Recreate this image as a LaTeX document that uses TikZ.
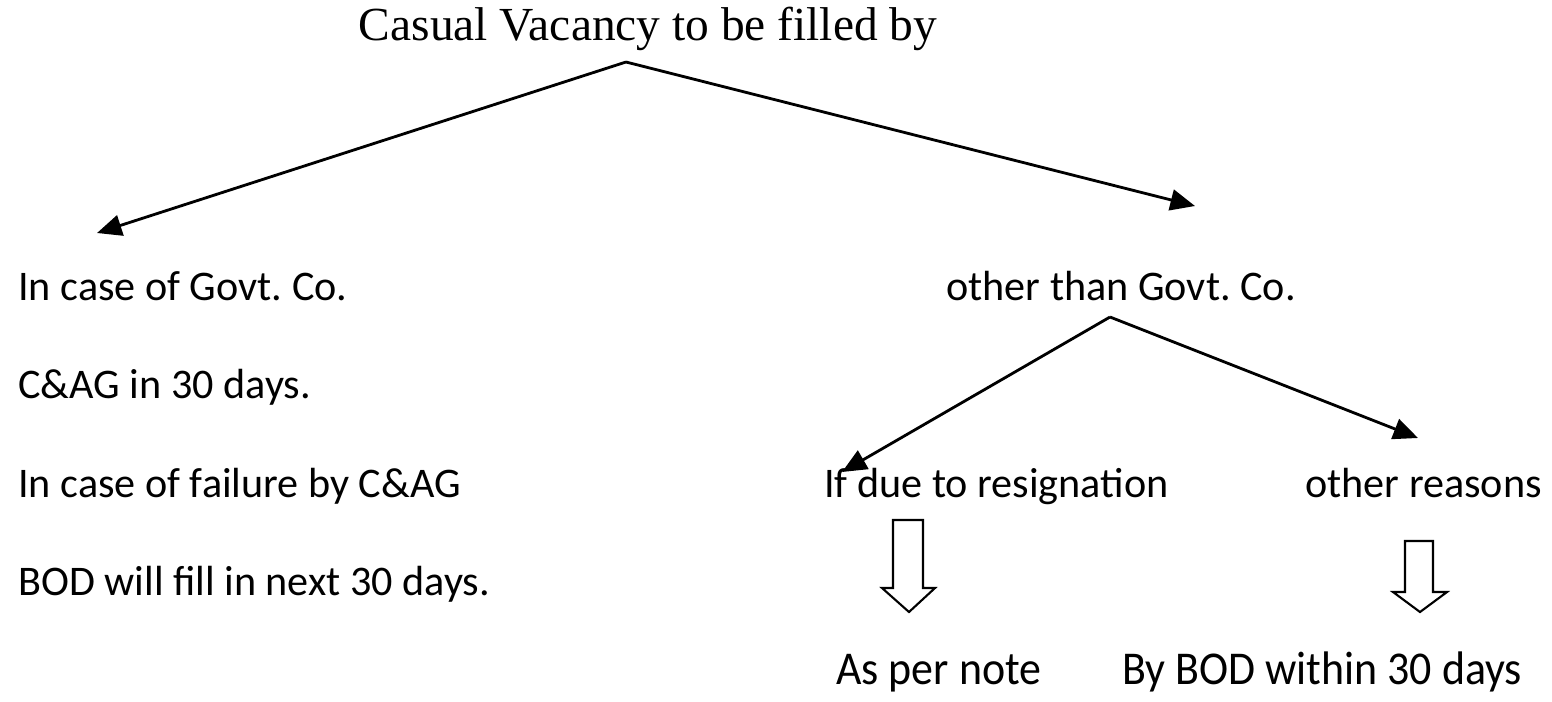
\documentclass[tikz,border=0pt]{standalone}
\usepackage{fontspec}
\usepackage{graphicx}
\usetikzlibrary{arrows.meta}
\newfontfamily\calib{Carlito}
\newfontfamily\timesf{Liberation Serif}
\frenchspacing
\begin{document}
\begin{tikzpicture}[x=0.02cm,y=-0.02cm,
  txt/.style={anchor=base west,inner sep=0pt,font=\calib\fontsize{24}{28}\selectfont},
  bot/.style={anchor=base west,inner sep=0pt,font=\calib\fontsize{25.5}{30}\selectfont},
  arr/.style={line width=1.6pt,-{Triangle[length=14pt,width=12pt]}},
  hollow/.style={line width=1.2pt,fill=white,line join=miter}]
\useasboundingbox (0,0) rectangle (1552,701);
% title
\node[anchor=base,inner sep=0pt,font=\timesf\fontsize{27}{32}\selectfont] (title) at (648,40) {Casual Vacancy to be filled by};
% left column
\node[txt] (g1) at (18,300) {In case of Govt. Co.};
\node[txt] (g2) at (18,398) {C\&AG in 30 days.};
\node[txt] (g3) at (18,497) {In case of failure by C\&AG};
\node[txt] (g4) at (18,595) {BOD will fill in next 30 days.};
% right column
\node[txt] (o1) at (946,300) {other than Govt. Co.};
\node[txt] (r1) at (824,497) {If due to resignation};
\node[txt] (r2) at (1305,497) {other reasons};
\node[bot] (n1) at (836,684) {\scalebox{0.98}[1.05]{As per note}};
\node[bot] (n2) at (1122,684) {\scalebox{0.98}[1.05]{By BOD within 30 days}};
% connectors
\coordinate (apex) at (626,62);
\coordinate (lt) at (97,233);
\coordinate (rt) at (1195,206);
\draw[arr] (apex) -- (lt);
\draw[arr] (apex) -- (rt);
\coordinate (apex2) at (1110,317);
\coordinate (lt2) at (842,472);
\coordinate (rt2) at (1418,438);
\draw[arr] (apex2) -- (lt2);
\draw[arr] (apex2) -- (rt2);
% hollow arrows
\draw[hollow] (893,520) -- (923,520) -- (923,588) -- (935,588) -- (909,612) -- (882,588) -- (893,588) -- cycle;
\draw[hollow] (1405,541) -- (1433,541) -- (1433,592) -- (1447,592) -- (1420,612) -- (1393,592) -- (1405,592) -- cycle;
\end{tikzpicture}
\end{document}
